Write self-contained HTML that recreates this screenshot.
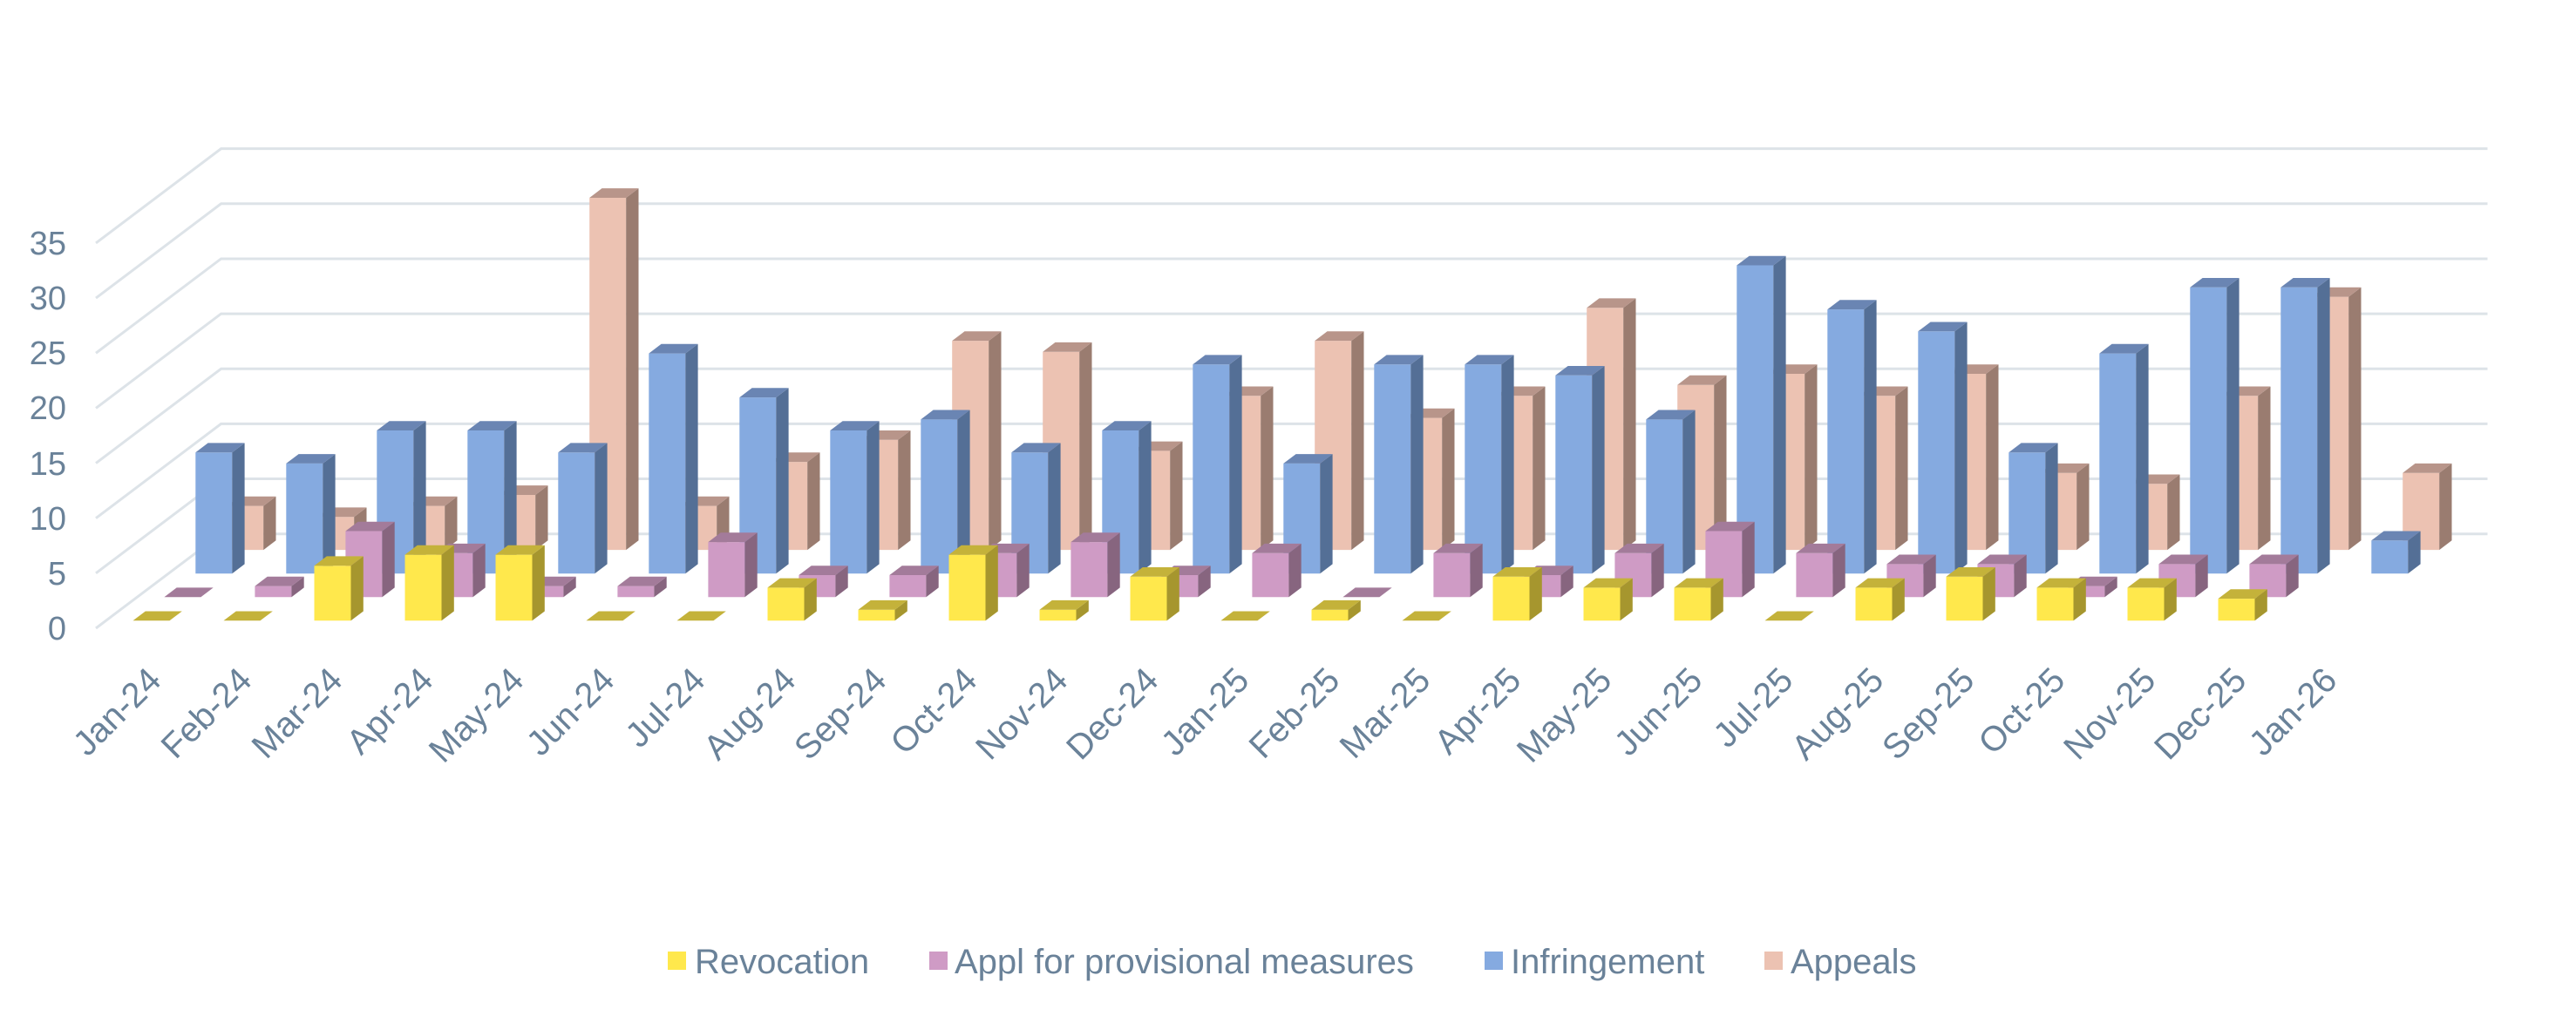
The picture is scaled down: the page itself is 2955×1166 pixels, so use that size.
<!DOCTYPE html>
<html><head><meta charset="utf-8"><style>
html,body{margin:0;padding:0;background:#fff;}
svg{display:block;}
text{font-family:"Liberation Sans",Arial,sans-serif;fill:#6a8299;}
</style></head><body>
<svg id="s" width="2955" height="1166" viewBox="0 0 2955 1166" xmlns="http://www.w3.org/2000/svg">
<rect width="2955" height="1166" fill="#fff"/>
<g id="grid" stroke="#dde3e8" stroke-width="3" fill="none"></g>
<g id="bars"></g>
<g font-size="38" text-anchor="end">
<text x="76" y="734">0</text>
<text x="76" y="671">5</text>
<text x="76" y="608">10</text>
<text x="76" y="545">15</text>
<text x="76" y="481">20</text>
<text x="76" y="418">25</text>
<text x="76" y="355">30</text>
<text x="76" y="292">35</text>
</g>
<g font-size="40" text-anchor="end">
<text transform="translate(187,783) rotate(-45)">Jan-24</text>
<text transform="translate(291,783) rotate(-45)">Feb-24</text>
<text transform="translate(395,783) rotate(-45)">Mar-24</text>
<text transform="translate(499,783) rotate(-45)">Apr-24</text>
<text transform="translate(603,783) rotate(-45)">May-24</text>
<text transform="translate(707,783) rotate(-45)">Jun-24</text>
<text transform="translate(811,783) rotate(-45)">Jul-24</text>
<text transform="translate(915,783) rotate(-45)">Aug-24</text>
<text transform="translate(1019,783) rotate(-45)">Sep-24</text>
<text transform="translate(1123,783) rotate(-45)">Oct-24</text>
<text transform="translate(1227,783) rotate(-45)">Nov-24</text>
<text transform="translate(1331,783) rotate(-45)">Dec-24</text>
<text transform="translate(1435,783) rotate(-45)">Jan-25</text>
<text transform="translate(1539,783) rotate(-45)">Feb-25</text>
<text transform="translate(1643,783) rotate(-45)">Mar-25</text>
<text transform="translate(1747,783) rotate(-45)">Apr-25</text>
<text transform="translate(1851,783) rotate(-45)">May-25</text>
<text transform="translate(1955,783) rotate(-45)">Jun-25</text>
<text transform="translate(2059,783) rotate(-45)">Jul-25</text>
<text transform="translate(2163,783) rotate(-45)">Aug-25</text>
<text transform="translate(2267,783) rotate(-45)">Sep-25</text>
<text transform="translate(2371,783) rotate(-45)">Oct-25</text>
<text transform="translate(2475,783) rotate(-45)">Nov-25</text>
<text transform="translate(2579,783) rotate(-45)">Dec-25</text>
<text transform="translate(2683,783) rotate(-45)">Jan-26</text>
</g>
<g font-size="40">
<rect x="766" y="1092" width="21" height="21" fill="#ffe84c"/>
<text x="797" y="1117">Revocation</text>
<rect x="1066" y="1092" width="21" height="21" fill="#cf9bc5"/>
<text x="1095" y="1117">Appl for provisional measures</text>
<rect x="1703" y="1092" width="21" height="21" fill="#85aae0"/>
<text x="1733" y="1117">Infringement</text>
<rect x="2024" y="1092" width="21" height="21" fill="#ecc2b2"/>
<text x="2054" y="1117">Appeals</text>
</g>
</svg>
<script>
(function(){
var NS="http://www.w3.org/2000/svg";
var DX=143.6, DY=108.3, UY=12.63, Y0=721;
function P(fx,v,d){return [fx+d*DX, Y0-v*UY-d*DY];}
function poly(g,pts,fill){var p=document.createElementNS(NS,"polygon");
p.setAttribute("points",pts.map(function(a){return a[0].toFixed(1)+","+a[1].toFixed(1);}).join(" "));
p.setAttribute("fill",fill);g.appendChild(p);}
var grid=document.getElementById("grid");
for(var v=0;v<=35;v+=5){
  var a=P(110,v,0), b=P(110,v,1), c=P(2709.9,v,1);
  var pl=document.createElementNS(NS,"polyline");
  pl.setAttribute("points",a[0]+","+a[1]+" "+b[0]+","+b[1]+" "+c[0]+","+c[1]);
  grid.appendChild(pl);
}
var data=[
 [0,0,5,6,6,0,0,3,1,6,1,4,0,1,0,4,3,3,0,3,4,3,3,2,null],
 [0,1,6,4,1,1,5,2,2,4,5,2,4,0,4,2,4,6,4,3,3,1,3,3,null],
 [11,10,13,13,11,20,16,13,14,11,13,19,10,19,19,18,14,28,24,22,11,20,26,26,3],
 [4,3,4,5,32,4,8,10,19,18,9,14,19,12,14,22,15,16,14,16,7,6,14,23,7]];
var col=[["#ffe84c","#c4b23a","#a6962e"],["#cf9bc5","#a37b9a","#87657f"],
 ["#85aae0","#6a85b3","#546f96"],["#ecc2b2","#b8958a","#9a7c70"]];
var g=document.getElementById("bars");
for(var r=3;r>=0;r--){
  var d0=0.08+0.25*r, d1=d0+0.1;
  for(var c=0;c<25;c++){
    var v=data[r][c]; if(v===null) continue;
    var f0=110+104*c+31, f1=f0+42;
    if(v>0){
      poly(g,[P(f0,0,d0),P(f1,0,d0),P(f1,v,d0),P(f0,v,d0)],col[r][0]);
      poly(g,[P(f1,0,d0),P(f1,v,d0),P(f1,v,d1),P(f1,0,d1)],col[r][2]);
    }
    poly(g,[P(f0,v,d0),P(f1,v,d0),P(f1,v,d1),P(f0,v,d1)],col[r][1]);
  }
}
})();
</script>
</body></html>
